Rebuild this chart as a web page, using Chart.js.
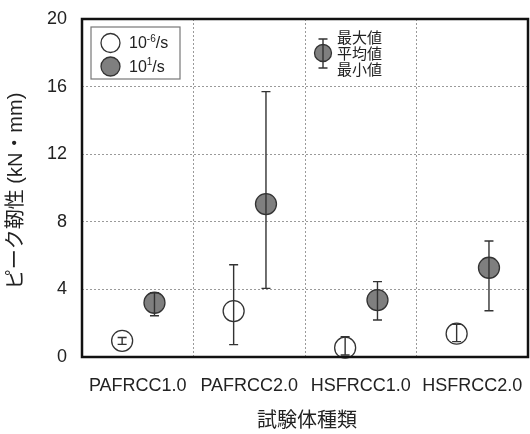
<!DOCTYPE html>
<html>
<head>
<meta charset="utf-8">
<script src="https://cdn.jsdelivr.net/npm/chart.js@4/dist/chart.umd.min.js"></script>
<style>
html,body{margin:0;padding:0;background:#fff;}
canvas{display:block;}
</style>
</head>
<body>
<canvas id="c" width="530" height="434"></canvas>
<script>
// ---- data ----
const categories = ['PAFRCC1.0', 'PAFRCC2.0', 'HSFRCC1.0', 'HSFRCC2.0'];
const slowMean = [0.96, 2.72, 0.55, 1.38];
const slowMax  = [1.15, 5.46, 1.20, 1.93];
const slowMin  = [0.75, 0.73, 0.12, 0.91];
const fastMean = [3.21, 9.05, 3.37, 5.28];
const fastMax  = [3.80, 15.7, 4.46, 6.86];
const fastMin  = [2.44, 4.06, 2.19, 2.74];
const yTicks = [0, 4, 8, 12, 16, 20];
const seriesBase = ['10', '10'];
const seriesExp = ['-6', '1'];
const seriesUnit = '/s';
const keyLabels = ['最大値', '平均値', '最小値'];
const xTitle = '試験体種類';
const yTitle = 'ピーク靭性 (kN・mm)';

const slowOffset = -0.14, fastOffset = 0.15;
function pts(mean, mn, mx, off) {
  return categories.map((c, i) => ({x: i + off, y: mean[i], min: mn[i], max: mx[i]}));
}

const FONT = '"Liberation Sans", Arial, "Noto Sans CJK JP", sans-serif';
const INK = '#222';

const errorBars = {
  id: 'errorBars',
  afterDatasetsDraw(chart) {
    const ctx = chart.ctx, ys = chart.scales.y;
    ctx.save();
    ctx.strokeStyle = '#333';
    ctx.lineWidth = 1.4;
    chart.data.datasets.forEach((ds, di) => {
      const meta = chart.getDatasetMeta(di);
      meta.data.forEach((el, i) => {
        const d = ds.data[i];
        const x = el.x;
        const y1 = ys.getPixelForValue(d.max), y2 = ys.getPixelForValue(d.min);
        ctx.beginPath();
        ctx.moveTo(x, y1); ctx.lineTo(x, y2);
        ctx.moveTo(x - 4.5, y1); ctx.lineTo(x + 4.5, y1);
        ctx.moveTo(x - 4.5, y2); ctx.lineTo(x + 4.5, y2);
        ctx.stroke();
      });
    });
    ctx.restore();
  }
};

const decor = {
  id: 'decor',
  afterDraw(chart) {
    const ctx = chart.ctx, a = chart.chartArea;
    ctx.save();
    // frame
    ctx.strokeStyle = '#111';
    ctx.lineWidth = 2.5;
    ctx.strokeRect(a.left, a.top, a.right - a.left, a.bottom - a.top);

    // axis titles
    ctx.fillStyle = INK;
    ctx.textAlign = 'center';
    ctx.textBaseline = 'middle';
    ctx.font = '20px "Noto Sans CJK JP", sans-serif';
    ctx.fillText(xTitle, (a.left + a.right) / 2 + 2, 419);
    ctx.save();
    ctx.translate(16, (a.top + a.bottom) / 2 + 3);
    ctx.rotate(-Math.PI / 2);
    ctx.font = '20px ' + FONT;
    ctx.fillText(yTitle, 0, 0);
    ctx.restore();

    // legend box
    const lx = a.left + 9, ly = a.top + 8, lw = 89, lh = 52;
    ctx.fillStyle = '#fff';
    ctx.fillRect(lx, ly, lw, lh);
    ctx.strokeStyle = '#777';
    ctx.lineWidth = 1.2;
    ctx.strokeRect(lx, ly, lw, lh);
    const fills = ['#ffffff', '#7f7f7f'];
    for (let k = 0; k < 2; k++) {
      const cy = ly + 16 + k * 23.5;
      ctx.beginPath();
      ctx.arc(lx + 19.5, cy, 9.5, 0, Math.PI * 2);
      ctx.fillStyle = fills[k];
      ctx.fill();
      ctx.strokeStyle = '#333';
      ctx.lineWidth = 1.3;
      ctx.stroke();
      ctx.fillStyle = INK;
      ctx.textAlign = 'left';
      ctx.textBaseline = 'middle';
      let tx = lx + 38;
      ctx.font = '16px ' + FONT;
      ctx.fillText(seriesBase[k], tx, cy + 1);
      tx += ctx.measureText(seriesBase[k]).width;
      ctx.font = '10px ' + FONT;
      ctx.fillText(seriesExp[k], tx, cy - 4);
      tx += ctx.measureText(seriesExp[k]).width;
      ctx.font = '16px ' + FONT;
      ctx.fillText(seriesUnit, tx, cy + 1);
    }

    // key for error bar meaning
    const kx = 323, ky = 53;
    ctx.beginPath();
    ctx.arc(kx, ky, 8.5, 0, Math.PI * 2);
    ctx.fillStyle = '#7f7f7f';
    ctx.fill();
    ctx.strokeStyle = '#333';
    ctx.lineWidth = 1.3;
    ctx.stroke();
    ctx.lineWidth = 1.4;
    ctx.beginPath();
    ctx.moveTo(kx, ky - 14); ctx.lineTo(kx, ky + 15);
    ctx.moveTo(kx - 4.5, ky - 14); ctx.lineTo(kx + 4.5, ky - 14);
    ctx.moveTo(kx - 4.5, ky + 15); ctx.lineTo(kx + 4.5, ky + 15);
    ctx.stroke();
    ctx.fillStyle = INK;
    ctx.font = '15px "Noto Sans CJK JP", sans-serif';
    ctx.textAlign = 'left';
    ctx.textBaseline = 'middle';
    keyLabels.forEach((t, i) => ctx.fillText(t, 337, 37 + i * 16));
    ctx.restore();
  }
};

new Chart(document.getElementById('c'), {
  type: 'scatter',
  data: {
    datasets: [
      {
        label: seriesBase[0] + seriesExp[0] + seriesUnit,
        data: pts(slowMean, slowMin, slowMax, slowOffset),
        backgroundColor: '#ffffff',
        borderColor: '#333',
        pointRadius: 10.5,
        pointHoverRadius: 10.5,
        pointBorderWidth: 1.3,
        clip: false
      },
      {
        label: seriesBase[1] + seriesExp[1] + seriesUnit,
        data: pts(fastMean, fastMin, fastMax, fastOffset),
        backgroundColor: '#7f7f7f',
        borderColor: '#333',
        pointRadius: 10.5,
        pointHoverRadius: 10.5,
        pointBorderWidth: 1.3,
        clip: false
      }
    ]
  },
  options: {
    responsive: false,
    animation: false,
    devicePixelRatio: 1,
    layout: {autoPadding: false, padding: {top: 19, right: 2, left: 0, bottom: 0}},
    plugins: {legend: {display: false}, tooltip: {enabled: false}},
    scales: {
      x: {
        type: 'linear',
        min: -0.5,
        max: 3.5,
        afterBuildTicks(scale) {
          const t = [];
          for (let v = -0.5; v <= 3.5; v += 0.5) t.push({value: v});
          scale.ticks = t;
        },
        afterFit(scale) {
          scale.height = 77;
          scale.paddingLeft = 0;
          scale.paddingRight = 0;
        },
        grid: {
          drawTicks: false,
          color: (c) => (c.tick && Number.isInteger(c.tick.value)) ? 'rgba(0,0,0,0)' : '#9a9a9a',
          lineWidth: 1
        },
        border: {display: false, dash: [2, 2]},
        ticks: {
          autoSkip: false,
          maxRotation: 0,
          padding: 18,
          color: INK,
          font: {family: FONT, size: 18},
          callback: (v) => Number.isInteger(v) ? categories[v] : ''
        }
      },
      y: {
        min: 0,
        max: 20,
        afterBuildTicks(scale) { scale.ticks = yTicks.map(v => ({value: v})); },
        afterFit(scale) {
          scale.width = 82;
          scale.paddingTop = 0;
          scale.paddingBottom = 0;
        },
        grid: {drawTicks: false, color: '#9a9a9a', lineWidth: 1},
        border: {display: false, dash: [2, 2]},
        ticks: {
          padding: 15,
          color: INK,
          font: {family: FONT, size: 18}
        }
      }
    }
  },
  plugins: [errorBars, decor]
});
</script>
</body>
</html>
